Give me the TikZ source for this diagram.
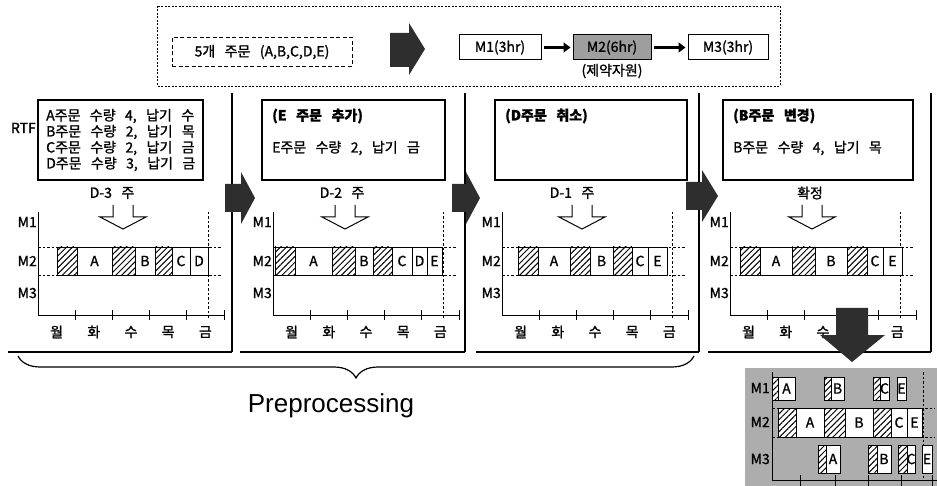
\documentclass[tikz,border=0pt]{standalone}
\usepackage{fontspec}
\setmainfont{Noto Sans CJK KR}[WordSpace=3.0, FakeBold=1.2]
\newfontfamily\arialf{Liberation Sans}
\usetikzlibrary{arrows.meta,patterns.meta,decorations.pathreplacing}
\tikzset{
  lbl/.style={font=\fontsize{14}{16}\selectfont, inner sep=0pt},
  boldlbl/.style={font=\bfseries\fontsize{14}{16}\selectfont, inner sep=0pt},
  barc/.style={draw, line width=0.9pt, fill=white},
  hatchc/.style={draw, line width=0.9pt, preaction={fill=white}, pattern={Lines[angle=45,distance=4.2pt,line width=1pt]}},
  axisl/.style={line width=0.9pt},
  dashl/.style={line width=0.8pt, dash pattern=on 2.5pt off 2pt},
  sep/.style={line width=1.1pt},
  infobox/.style={draw, line width=1.1pt, fill=white},
  mbox/.style={draw, line width=1pt, minimum height=25pt, inner sep=2pt, font=\fontsize{14}{16}\selectfont},
  darkarrow/.style={fill=black!82},
  hollowarrow/.style={draw, line width=1pt, fill=white},
  flowarrow/.style={line width=3pt, -{Triangle[length=7pt,width=10pt]}, shorten <=2pt, shorten >=2pt}
}
\newcommand\wcell[5]{\draw[barc] (#1,#3) rectangle (#2,#4); \node[lbl] (c#1x#3) at ({(#1+#2)/2},{(#3+#4)/2}) {#5};}
\newcommand\hcell[4]{\draw[hatchc] (#1,#3) rectangle (#2,#4);}
\newcommand\hollowdown[1]{\draw[hollowarrow] ({#1-10},205) -- ({#1-10},217) -- ({#1-23},217) -- (#1,229) -- ({#1+23},217) -- ({#1+10},217) -- ({#1+10},205);}
\newcommand\darkright[4]{\fill[darkarrow] (#1,{#4-14}) -- (#2,{#4-14}) -- (#2,{#4-26}) -- (#3,#4) -- (#2,{#4+26}) -- (#2,{#4+14}) -- (#1,{#4+14}) -- cycle;}
\newcommand\panelaxes[1]{%
  \draw[axisl] (#1,212) -- (#1,315) -- ({#1+186},315);
  \foreach \k in {1,...,5} \draw[axisl] ({#1+37.2*\k},310) -- ({#1+37.2*\k},320);
  \draw[dashl] ({#1+170},212) -- ({#1+170},318);
  \draw[dashl] (#1,247) -- ({#1+184},247) (#1,275) -- ({#1+184},275);
  \node[lbl,anchor=east] (ma#1) at ({#1-1},222) {M1};
  \node[lbl,anchor=east] (mb#1) at ({#1-1},261) {M2};
  \node[lbl,anchor=east] (mc#1) at ({#1-1},293) {M3};
  \foreach \d [count=\i from 0] in {월,화,수,목,금}
    \node[lbl] (d#1x\i) at ({#1+18.6+37.2*\i},332) {\d};
}
\begin{document}
\begin{tikzpicture}[x=1pt,y=-1pt]
\useasboundingbox[fill=white] (0,0) rectangle (937,486);

% ---------- top overview ----------
\draw[line width=0.7pt, dash pattern=on 2pt off 1.5pt] (157,6) rectangle (780,86);
\node[lbl, draw, line width=1pt, dash pattern=on 4pt off 2.5pt, minimum width=180pt, minimum height=29pt] (orders) at (262,52) {5개 주문 (A,B,C,D,E)};
\fill[darkarrow] (390,33) -- (409,33) -- (409,23) -- (425,49) -- (409,75) -- (409,67) -- (390,67) -- cycle;
\node[mbox, minimum width=82pt] (m1) at (500,47.5) {M1(3hr)};
\node[mbox, minimum width=78pt, fill=black!38] (m2) at (612,47.5) {M2(6hr)};
\node[mbox, minimum width=80pt] (m3) at (728,47.5) {M3(3hr)};
\draw[flowarrow] (m1) -- (m2);
\draw[flowarrow] (m2) -- (m3);
\node[lbl] (res) at (612,71) {(제약자원)};

% ---------- panel frames ----------
\draw[sep] (232,93) -- (232,352) (8,352) -- (232,352);
\draw[sep] (465,93) -- (465,352) (240,352) -- (465,352);
\draw[sep] (699,93) -- (699,352) (476,352) -- (699,352);
\draw[sep] (931,93) -- (931,352) (708,352) -- (931,352);

% ---------- panel 1 ----------
\node[lbl, anchor=east] (rtf) at (36,128) {RTF};
\draw[infobox] (38,100) rectangle (203,180);
\node[lbl, anchor=west] (p1a) at (46,116) {A주문 수량 4, 납기 수};
\node[lbl, anchor=west] (p1b) at (46,132) {B주문 수량 2, 납기 목};
\node[lbl, anchor=west] (p1c) at (46,148) {C주문 수량 2, 납기 금};
\node[lbl, anchor=west] (p1d) at (46,164) {D주문 수량 3, 납기 금};
\node[lbl] (w1) at (112,193) {D-3 주};
\hollowdown{123}
\panelaxes{38}
\hcell{57}{77}{247}{275}\wcell{77}{112}{247}{275}{A}\hcell{112}{135}{247}{275}\wcell{135}{155}{247}{275}{B}
\hcell{155}{172}{247}{275}\wcell{172}{190}{247}{275}{C}\wcell{190}{208}{247}{275}{D}

% ---------- panel 2 ----------
\draw[infobox] (262,100) rectangle (445,180);
\node[boldlbl, anchor=west] (p2a) at (272,116) {(E 주문 추가)};
\node[lbl, anchor=west] (p2b) at (272,148) {E주문 수량 2, 납기 금};
\node[lbl] (w2) at (342,193) {D-2 주};
\hollowdown{345}
\panelaxes{273}
\hcell{275}{295}{247}{275}\wcell{295}{332}{247}{275}{A}\hcell{332}{355}{247}{275}\wcell{355}{373}{247}{275}{B}
\hcell{373}{392}{247}{275}\wcell{392}{412}{247}{275}{C}\wcell{412}{427}{247}{275}{D}\wcell{427}{442}{247}{275}{E}

% ---------- panel 3 ----------
\draw[infobox] (495,100) rectangle (687,180);
\node[boldlbl, anchor=west] (p3a) at (505,116) {(D주문 취소)};
\node[lbl] (w3) at (572,193) {D-1 주};
\hollowdown{582}
\panelaxes{502}
\hcell{518}{538}{247}{275}\wcell{538}{570}{247}{275}{A}\hcell{570}{590}{247}{275}\wcell{590}{613}{247}{275}{B}
\hcell{613}{632}{247}{275}\wcell{632}{648}{247}{275}{C}\wcell{648}{667}{247}{275}{E}

% ---------- panel 4 ----------
\draw[infobox] (723,100) rectangle (913,180);
\node[boldlbl, anchor=west] (p4a) at (733,116) {(B주문 변경)};
\node[lbl, anchor=west] (p4b) at (733,148) {B주문 수량 4, 납기 목};
\node[lbl] (w4) at (810,193) {확정};
\hollowdown{812}
\panelaxes{730}
\hcell{740}{760}{247}{275}\wcell{760}{792}{247}{275}{A}\hcell{792}{815}{247}{275}\wcell{815}{847}{247}{275}{B}
\hcell{847}{867}{247}{275}\wcell{867}{883}{247}{275}{C}\wcell{883}{902}{247}{275}{E}

% ---------- dark arrows between panels ----------
\darkright{225}{241}{255}{198}
\darkright{452}{466}{480}{198}
\darkright{686}{702}{718}{196}

% ---------- result (gray box) ----------
\fill[black!32] (745,368) rectangle (937,486);
\fill[darkarrow] (836,308) -- (868,308) -- (868,335) -- (885,335) -- (852,362) -- (820,335) -- (836,335) -- cycle;
\draw[axisl] (772,372) -- (772,480) -- (937,480);
\foreach \t in {800,835,868,901,932} \draw[axisl] (\t,475) -- (\t,486);
\draw[dashl] (923,372) -- (923,480);
\draw[dashl] (772,408) -- (935,408) (772,437) -- (935,437);
\node[lbl, anchor=east] (ga) at (770,388) {M1};
\node[lbl, anchor=east] (gb) at (770,422) {M2};
\node[lbl, anchor=east] (gc) at (770,459) {M3};
% M1 row
\hcell{772}{778}{377}{400}\wcell{778}{795}{377}{400}{A}
\hcell{824}{831}{377}{400}\wcell{831}{844}{377}{400}{B}
\hcell{873}{880}{377}{400}\wcell{880}{889}{377}{400}{C}
\wcell{897}{906}{377}{400}{E}
% M2 row
\hcell{778}{796}{408}{437}\wcell{796}{824}{408}{437}{A}
\hcell{824}{845}{408}{437}\wcell{845}{873}{408}{437}{B}
\hcell{873}{891}{408}{437}\wcell{891}{907}{408}{437}{C}\wcell{907}{922}{408}{437}{E}
% M3 row
\hcell{818}{826}{445}{473}\wcell{826}{840}{445}{473}{A}
\hcell{868}{877}{445}{473}\wcell{877}{891}{445}{473}{B}
\hcell{898}{907}{445}{473}\wcell{907}{915}{445}{473}{C}\wcell{922}{932}{445}{473}{E}

% ---------- preprocessing brace ----------
\draw[line width=1.2pt, decorate, decoration={brace, mirror, amplitude=22pt}] (18,356) -- (694,356);
\node[font=\arialf\fontsize{26}{30}\selectfont, inner sep=0pt] (pre) at (331,406) {Preprocessing};
\end{tikzpicture}
\end{document}
